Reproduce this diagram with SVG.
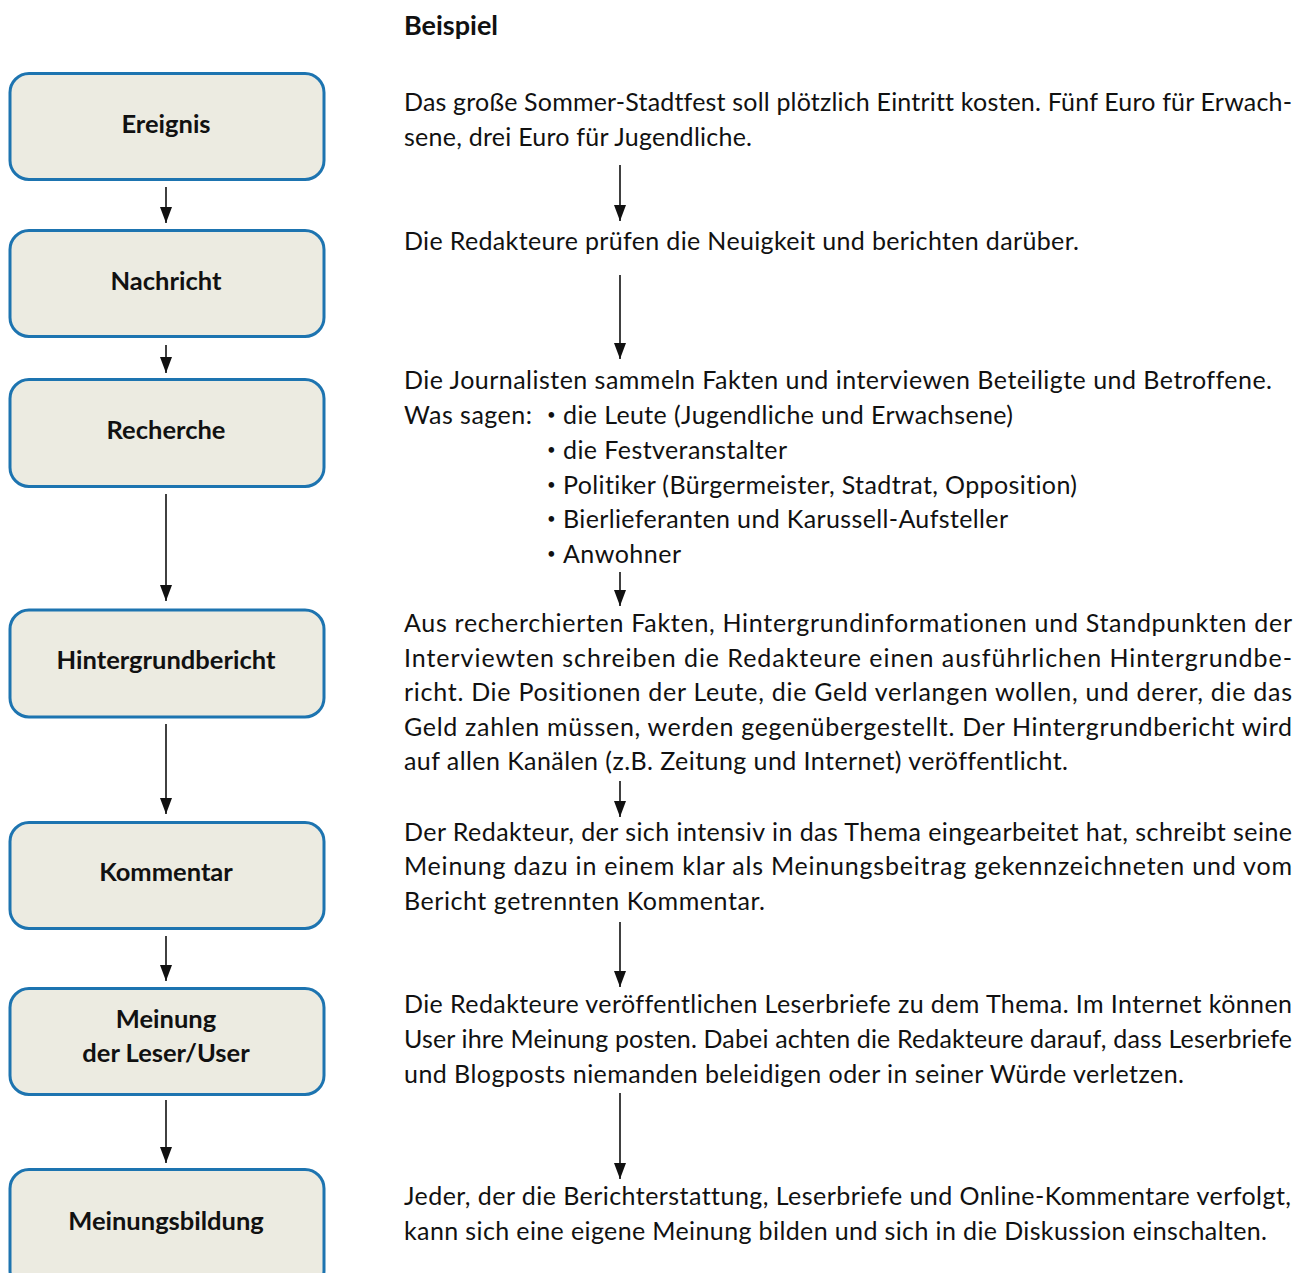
<svg xmlns="http://www.w3.org/2000/svg" width="1306" height="1273" viewBox="0 0 1306 1273">
<style>
text{font-variant-ligatures:none;font-feature-settings:"liga" 0,"clig" 0,"dlig" 0}
.box{fill:#ecebe1;stroke:#1d74b0;stroke-width:3}
.lbl{font-family:Lato,"Noto Sans",sans-serif;font-weight:bold;font-size:25.5px;fill:#111;text-anchor:middle}
.t{font-family:Lato,"Noto Sans",sans-serif;font-size:25px;fill:#111}
.b{font-family:Lato,"Noto Sans",sans-serif;font-size:15px;fill:#111}
.h{font-family:Lato,"Noto Sans",sans-serif;font-weight:bold;font-size:27px;fill:#111}
.ln{stroke:#111;stroke-width:1.6;fill:none;marker-end:url(#ah)}
</style>
<defs>
<marker id="ah" viewBox="0 -6 16 12" refX="16" refY="0" markerWidth="16" markerHeight="12" markerUnits="userSpaceOnUse" orient="auto">
<path d="M0,-6 L16,0 L0,6 z" fill="#111"/>
</marker>
</defs>
<rect width="1306" height="1273" fill="#fff"/>

<g id="n-ereignis"><rect class="box" x="10" y="73.5" width="314" height="106" rx="19"/><text class="lbl" x="166" y="133">Ereignis</text></g>
<g id="n-nachricht"><rect class="box" x="10" y="230.5" width="314" height="106" rx="19"/><text class="lbl" x="166" y="290">Nachricht</text></g>
<g id="n-recherche"><rect class="box" x="10" y="379.5" width="314" height="107" rx="19"/><text class="lbl" x="166" y="439">Recherche</text></g>
<g id="n-hintergrund"><rect class="box" x="10" y="610" width="314" height="107" rx="19"/><text class="lbl" x="166" y="669">Hintergrundbericht</text></g>
<g id="n-kommentar"><rect class="box" x="10" y="822.5" width="314" height="106" rx="19"/><text class="lbl" x="166" y="881">Kommentar</text></g>
<g id="n-meinung"><rect class="box" x="10" y="988.5" width="314" height="106" rx="19"/><text class="lbl" x="166" y="1028">Meinung</text><text class="lbl" x="166" y="1062">der Leser/User</text></g>
<g id="n-meinungsbildung"><rect class="box" x="10" y="1169.5" width="314" height="120" rx="19"/><text class="lbl" x="166" y="1230">Meinungsbildung</text></g>

<g id="connectors">
<line class="ln" x1="166" y1="187" x2="166" y2="223"/>
<line class="ln" x1="166" y1="345" x2="166" y2="373"/>
<line class="ln" x1="166" y1="494" x2="166" y2="601"/>
<line class="ln" x1="166" y1="724" x2="166" y2="814"/>
<line class="ln" x1="166" y1="936" x2="166" y2="981"/>
<line class="ln" x1="166" y1="1100" x2="166" y2="1163"/>
<line class="ln" x1="620" y1="165" x2="620" y2="221"/>
<line class="ln" x1="620" y1="275" x2="620" y2="359"/>
<line class="ln" x1="620" y1="572" x2="620" y2="606"/>
<line class="ln" x1="620" y1="781" x2="620" y2="817"/>
<line class="ln" x1="620" y1="922" x2="620" y2="987"/>
<line class="ln" x1="620" y1="1093" x2="620" y2="1179"/>
</g>

<g id="beispiel">
<text class="h" x="404" y="35">Beispiel</text>
<text class="t" x="404" y="111" textLength="888" lengthAdjust="spacing">Das große Sommer-Stadtfest soll plötzlich Eintritt kosten. Fünf Euro für Erwach-</text>
<text class="t" x="404" y="146" textLength="348" lengthAdjust="spacing">sene, drei Euro für Jugendliche.</text>

<text class="t" x="404" y="250" textLength="675" lengthAdjust="spacing">Die Redakteure prüfen die Neuigkeit und berichten darüber.</text>

<text class="t" x="404" y="389" textLength="868" lengthAdjust="spacing">Die Journalisten sammeln Fakten und interviewen Beteiligte und Betroffene.</text>
<text class="t" x="404" y="424" textLength="128" lengthAdjust="spacing">Was sagen:</text>
<text class="b" x="547" y="420">•</text>
<text class="t" x="563" y="424" textLength="450" lengthAdjust="spacing">die Leute (Jugendliche und Erwachsene)</text>
<text class="b" x="547" y="455">•</text>
<text class="t" x="563" y="459" textLength="224" lengthAdjust="spacing">die Festveranstalter</text>
<text class="b" x="547" y="490">•</text>
<text class="t" x="563" y="494" textLength="514" lengthAdjust="spacing">Politiker (Bürgermeister, Stadtrat, Opposition)</text>
<text class="b" x="547" y="524">•</text>
<text class="t" x="563" y="528" textLength="445" lengthAdjust="spacing">Bierlieferanten und Karussell-Aufsteller</text>
<text class="b" x="547" y="559">•</text>
<text class="t" x="563" y="563" textLength="118" lengthAdjust="spacing">Anwohner</text>

<text class="t" x="404" y="632" textLength="888" lengthAdjust="spacing">Aus recherchierten Fakten, Hintergrundinformationen und Standpunkten der</text>
<text class="t" x="404" y="667" textLength="888" lengthAdjust="spacing">Interviewten schreiben die Redakteure einen ausführlichen Hintergrundbe-</text>
<text class="t" x="404" y="701" textLength="888" lengthAdjust="spacing">richt. Die Positionen der Leute, die Geld verlangen wollen, und derer, die das</text>
<text class="t" x="404" y="736" textLength="888" lengthAdjust="spacing">Geld zahlen müssen, werden gegenübergestellt. Der Hintergrundbericht wird</text>
<text class="t" x="404" y="770" textLength="664" lengthAdjust="spacing">auf allen Kanälen (z.B. Zeitung und Internet) veröffentlicht.</text>

<text class="t" x="404" y="841" textLength="888" lengthAdjust="spacing">Der Redakteur, der sich intensiv in das Thema eingearbeitet hat, schreibt seine</text>
<text class="t" x="404" y="875" textLength="888" lengthAdjust="spacing">Meinung dazu in einem klar als Meinungsbeitrag gekennzeichneten und vom</text>
<text class="t" x="404" y="910" textLength="361" lengthAdjust="spacing">Bericht getrennten Kommentar.</text>

<text class="t" x="404" y="1013" textLength="888" lengthAdjust="spacing">Die Redakteure veröffentlichen Leserbriefe zu dem Thema. Im Internet können</text>
<text class="t" x="404" y="1048" textLength="888" lengthAdjust="spacing">User ihre Meinung posten. Dabei achten die Redakteure darauf, dass Leserbriefe</text>
<text class="t" x="404" y="1083" textLength="780" lengthAdjust="spacing">und Blogposts niemanden beleidigen oder in seiner Würde verletzen.</text>

<text class="t" x="404" y="1205" textLength="887" lengthAdjust="spacing">Jeder, der die Berichterstattung, Leserbriefe und Online-Kommentare verfolgt,</text>
<text class="t" x="404" y="1240" textLength="863" lengthAdjust="spacing">kann sich eine eigene Meinung bilden und sich in die Diskussion einschalten.</text>
</g>
</svg>
